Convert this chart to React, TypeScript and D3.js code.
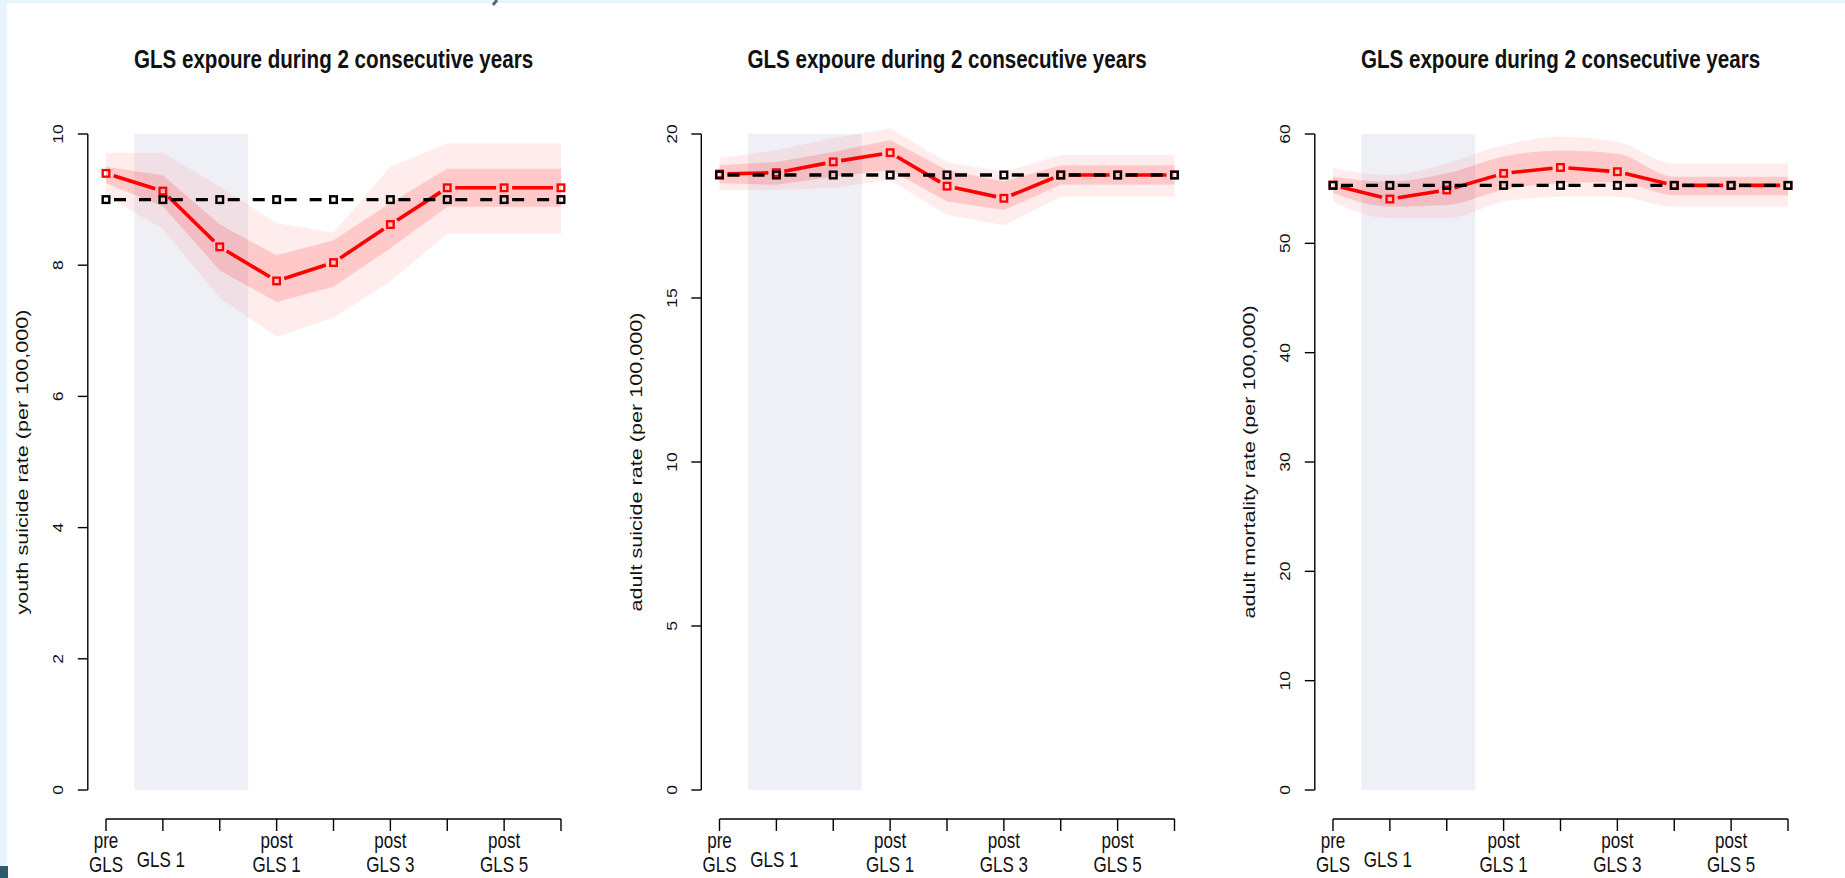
import React from 'react';
import * as d3 from 'd3';

// x positions: 9 time points
const periods = [0, 1, 2, 3, 4, 5, 6, 7, 8];
const periodLabels = [['pre', 'GLS'], ['GLS 1'], [], ['post', 'GLS 1'], [], ['post', 'GLS 3'], [], ['post', 'GLS 5'], []];
const titleText = 'GLS expoure during 2 consecutive years';

// youth suicide
const youthRate = [9.4, 9.13, 8.28, 7.76, 8.04, 8.62, 9.18, 9.18, 9.18];
const youthBase = [9.0, 9.0, 9.0, 9.0, 9.0, 9.0, 9.0, 9.0, 9.0];
const youthInnerHi = [9.5, 9.37, 8.62, 8.15, 8.38, 8.95, 9.47, 9.47, 9.47];
const youthInnerLo = [9.25, 8.9, 7.92, 7.44, 7.67, 8.26, 8.89, 8.89, 8.89];
const youthOuterHi = [9.71, 9.71, 9.2, 8.64, 8.5, 9.5, 9.86, 9.86, 9.86];
const youthOuterLo = [9.05, 8.55, 7.5, 6.91, 7.2, 7.75, 8.48, 8.48, 8.48];
const youthTicks = [0, 2, 4, 6, 8, 10];

// adult suicide
const adultRate = [18.78, 18.82, 19.15, 19.43, 18.41, 18.04, 18.75, 18.75, 18.75];
const adultBase = [18.75, 18.75, 18.75, 18.75, 18.75, 18.75, 18.75, 18.75, 18.75];
const adultInnerHi = [19.05, 19.15, 19.45, 19.82, 18.9, 18.55, 19.05, 19.05, 19.05];
const adultInnerLo = [18.5, 18.45, 18.7, 18.9, 17.94, 17.68, 18.45, 18.45, 18.45];
const adultOuterHi = [19.26, 19.51, 19.87, 20.17, 19.15, 18.85, 19.36, 19.36, 19.36];
const adultOuterLo = [18.29, 18.29, 18.35, 18.6, 17.53, 17.22, 18.09, 18.09, 18.09];
const adultTicks = [0, 5, 10, 15, 20];

// adult mortality
const mortRate = [55.33, 54.05, 54.88, 56.4, 56.94, 56.55, 55.3, 55.3, 55.3];
const mortBase = [55.3, 55.3, 55.3, 55.3, 55.3, 55.3, 55.3, 55.3, 55.3];
const mortInnerHi = [56.1, 55.64, 56.4, 57.95, 58.5, 58.2, 56.1, 56.1, 56.1];
const mortInnerLo = [54.6, 53.35, 53.5, 54.9, 55.5, 55.6, 54.4, 54.4, 54.4];
const mortOuterHi = [56.86, 56.25, 57.3, 59.0, 59.75, 59.3, 57.3, 57.3, 57.3];
const mortOuterLo = [53.81, 52.29, 52.29, 53.8, 54.27, 54.27, 53.35, 53.35, 53.35];
const mortTicks = [0, 10, 20, 30, 40, 50, 60];

const panels = [
  { ylab: 'youth suicide rate (per 100,000)', rate: youthRate, base: youthBase, innerHi: youthInnerHi, innerLo: youthInnerLo, outerHi: youthOuterHi, outerLo: youthOuterLo, ticks: youthTicks, smooth: false },
  { ylab: 'adult suicide rate (per 100,000)', rate: adultRate, base: adultBase, innerHi: adultInnerHi, innerLo: adultInnerLo, outerHi: adultOuterHi, outerLo: adultOuterLo, ticks: adultTicks, smooth: false },
  { ylab: 'adult mortality rate (per 100,000)', rate: mortRate, base: mortBase, innerHi: mortInnerHi, innerLo: mortInnerLo, outerHi: mortOuterHi, outerLo: mortOuterLo, ticks: mortTicks, smooth: true },
];

const FONT = "'Liberation Sans', Arial, sans-serif";
const STRETCH = 1.25;
const GAP = 8;

function segments(xs: number[], ys: number[]) {
  // type="b" style: segments shortened near points
  const out: string[] = [];
  for (let i = 0; i < xs.length - 1; i++) {
    const dx = xs[i + 1] - xs[i];
    const dy = ys[i + 1] - ys[i];
    const len = Math.sqrt(dx * dx + dy * dy);
    const ux = dx / len, uy = dy / len;
    out.push(`M${xs[i] + ux * GAP},${ys[i] + uy * GAP}L${xs[i + 1] - ux * GAP},${ys[i + 1] - uy * GAP}`);
  }
  return out;
}

function Panel({ p, offset }: { p: any; offset: number }) {
  const x = d3.scaleLinear().domain([0, 8]).range([106, 561]);
  const y = d3.scaleLinear().domain([0, d3.max(p.ticks) as number]).range([790, 134]);
  const axisX = x(-0.32);
  const curve = p.smooth ? d3.curveMonotoneX : d3.curveLinear;
  const band = (lo: number[], hi: number[]) =>
    d3.area<number>().x((d) => x(d)).y0((d) => y(lo[d])).y1((d) => y(hi[d])).curve(curve)(periods) || '';
  const xs = periods.map((d) => x(d));
  const redYs = p.rate.map((v: number) => y(v));
  const baseYs = p.base.map((v: number) => y(v));
  const yTop = y(d3.max(p.ticks) as number);
  const yBot = y(0);

  return (
    <g transform={`translate(${offset},0)`}>
      <text transform={`translate(${(x(-0.32) + x(8.32)) / 2},68) scale(1,${STRETCH})`} textAnchor="middle" fontFamily={FONT} fontWeight="bold" fontSize={20.6} fill="#111">
        {titleText}
      </text>
      {/* exposure window */}
      <rect x={x(0.5)} y={yTop} width={x(2.5) - x(0.5)} height={yBot - yTop} fill="#eff0f6" />
      <path d={band(p.outerLo, p.outerHi)} fill="rgba(255,0,0,0.07)" />
      <path d={band(p.innerLo, p.innerHi)} fill="rgba(255,0,0,0.15)" />
      {segments(xs, redYs).map((d, i) => (
        <path key={'r' + i} d={d} stroke="#ff0000" strokeWidth={3.6} fill="none" />
      ))}
      {xs.map((cx, i) => (
        <rect key={'rp' + i} x={cx - 3.3} y={redYs[i] - 3.3} width={6.6} height={6.6} fill="none" stroke="#ff0000" strokeWidth={2.3} />
      ))}
      {segments(xs, baseYs).map((d, i) => (
        <path key={'b' + i} d={d} stroke="#000" strokeWidth={3.4} fill="none" strokeDasharray="12 13" />
      ))}
      {xs.map((cx, i) => (
        <rect key={'bp' + i} x={cx - 3.3} y={baseYs[i] - 3.3} width={6.6} height={6.6} fill="none" stroke="#000" strokeWidth={2.4} />
      ))}
      {/* y axis */}
      <line x1={axisX} x2={axisX} y1={yTop} y2={yBot} stroke="#000" strokeWidth={1.4} />
      {p.ticks.map((t: number) => (
        <g key={'yt' + t}>
          <line x1={axisX - 10} x2={axisX} y1={y(t)} y2={y(t)} stroke="#000" strokeWidth={1.4} />
          <text transform={`translate(${axisX - 29.5},${y(t)}) rotate(-90) scale(${STRETCH},1)`} textAnchor="middle" dominantBaseline="central" fontFamily={FONT} fontSize={14} fill="#111">
            {t}
          </text>
        </g>
      ))}
      <text transform={`translate(${axisX - 65},${(yTop + yBot) / 2}) rotate(-90) scale(1.35,1)`} textAnchor="middle" dominantBaseline="central" fontFamily={FONT} fontSize={16} fill="#111">
        {p.ylab}
      </text>
      {/* x axis */}
      <line x1={x(0)} x2={x(8)} y1={819} y2={819} stroke="#000" strokeWidth={1.4} />
      {periods.map((d) => (
        <line key={'xt' + d} x1={x(d)} x2={x(d)} y1={819} y2={831} stroke="#000" strokeWidth={1.4} />
      ))}
      {periodLabels.map((lines, i) =>
        lines.length === 2 ? (
          <g key={'xl' + i}>
            <text transform={`translate(${x(i)},848) scale(1,${STRETCH})`} textAnchor="middle" fontFamily={FONT} fontSize={17} fill="#111">{lines[0]}</text>
            <text transform={`translate(${x(i)},872) scale(1,${STRETCH})`} textAnchor="middle" fontFamily={FONT} fontSize={17} fill="#111">{lines[1]}</text>
          </g>
        ) : lines.length === 1 ? (
          <text key={'xl' + i} transform={`translate(${x(i) - 2},867) scale(1,${STRETCH})`} textAnchor="middle" fontFamily={FONT} fontSize={17} fill="#111">{lines[0]}</text>
        ) : null
      )}
    </g>
  );
}

export default function App() {
  return (
    <svg width={1845} height={878} style={{ position: 'fixed', left: 0, top: 0, background: '#fff' }}>
      <rect x={0} y={0} width={1845} height={878} fill="#fff" />
      <rect x={0} y={0} width={1845} height={3} fill="#e8f4fc" />
      <rect x={0} y={0} width={7} height={878} fill="#e8f4fc" />
      <rect x={0} y={866} width={8} height={12} fill="#2d5b6b" />
      <line x1={497} y1={0} x2={493} y2={5} stroke="#666" strokeWidth={3} />
      {panels.map((p, i) => (
        <Panel key={i} p={p} offset={i * 613.5} />
      ))}
    </svg>
  );
}
